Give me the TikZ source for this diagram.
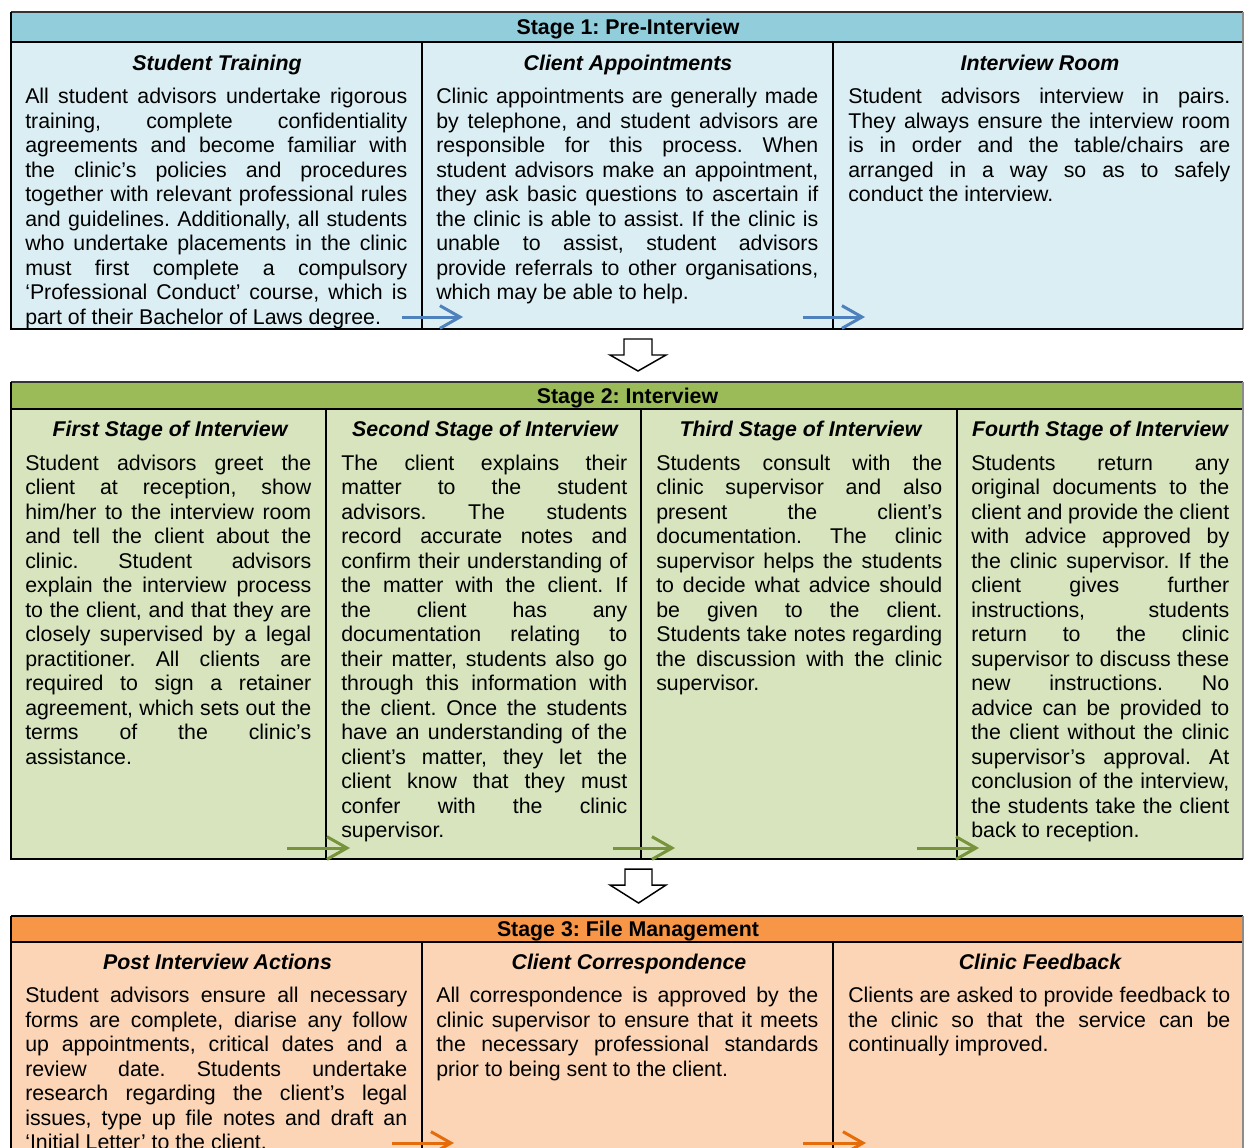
\documentclass[tikz,border=0pt]{standalone}
\usepackage{fontspec}
\setmainfont{Liberation Sans}
\usetikzlibrary{arrows.meta}
\definecolor{sAhead}{HTML}{92CDDC}
\definecolor{sAbody}{HTML}{DAEEF3}
\definecolor{sBhead}{HTML}{9BBB59}
\definecolor{sBbody}{HTML}{D7E4BD}
\definecolor{sChead}{HTML}{F79646}
\definecolor{sCbody}{HTML}{FBD5B5}
\definecolor{arrA}{HTML}{4F81BD}
\definecolor{arrB}{HTML}{77933C}
\definecolor{arrC}{HTML}{E46C0A}
\newcommand\bodyfont{\fontsize{16}{18.375}\selectfont\frenchspacing}
\frenchspacing
\tolerance=10000 \hbadness=10000 \hyphenpenalty=10000 \exhyphenpenalty=10000
\tikzset{
  headtxt/.style={anchor=base, inner sep=0pt, font=\bodyfont\bfseries},
  ttl/.style={anchor=base, inner sep=0pt, font=\bodyfont\bfseries\itshape},
  bodytxt/.style={anchor=north west, inner sep=0pt, align=justify, font=\bodyfont},
  wideA/.style={bodytxt, text width=286.5pt},
  wideB/.style={bodytxt, text width=214.5pt},
  wideC/.style={bodytxt, text width=193.5pt},
  frameline/.style={line width=1.5pt, draw=black},
  flowarrow/.style={line width=2.25pt, -{Straight Barb[length=15pt,width=17pt]}},
  hollow/.style={draw=black, fill=white, line width=1.1pt, line join=miter},
}
\begin{document}
\begin{tikzpicture}[x=0.75pt,y=-0.75pt]
\useasboundingbox (0,0) rectangle (1244,1147);
\clip (0,0) rectangle (1244,1147);
\fill[white] (0,0) rectangle (1244,1147);

% ---------------- Stage 1 ----------------
\fill[sAbody] (11,42) rectangle (1243,329);
\fill[sAhead] (11,12) rectangle (1243,42);
\draw[frameline] (11,42) -- (1243,42);
\draw[frameline] (422,42) -- (422,329);
\draw[frameline] (833,42) -- (833,329);
\draw[line width=1pt, draw=black!80] (11,12) -- (1243,12);
\draw[line width=1pt, draw=black!45] (1243,12) -- (1243,329);
\draw[frameline] (11,12) -- (11,329) -- (1243,329);

\node[headtxt] (h1) at (628,34.5) {Stage 1: Pre-Interview};
\node[ttl] (t11) at (217,70.7) {Student Training};
\node[ttl] (t12) at (628,70.7) {Client Appointments};
\node[ttl] (t13) at (1040,70.7) {Interview Room};

\node[wideA] (b11) at (25,86.3) {\strut All student advisors undertake rigorous \linebreak
training, complete confidentiality \linebreak
agreements and become familiar with \linebreak
the clinic’s policies and procedures \linebreak
together with relevant professional rules \linebreak
and guidelines. Additionally, all students \linebreak
who undertake placements in the clinic \linebreak
must first complete a compulsory \linebreak
‘Professional Conduct’ course, which is \linebreak
part of their Bachelor of Laws degree.};

\node[wideA] (b12) at (436,86.3) {\strut Clinic appointments are generally made \linebreak
by telephone, and student advisors are \linebreak
responsible for this process. When \linebreak
student advisors make an appointment, \linebreak
they ask basic questions to ascertain if \linebreak
the clinic is able to assist. If the clinic is \linebreak
unable to assist, student advisors \linebreak
provide referrals to other organisations, \linebreak
which may be able to help.};

\node[wideA] (b13) at (848,86.3) {\strut Student advisors interview in pairs. \linebreak
They always ensure the interview room \linebreak
is in order and the table/chairs are \linebreak
arranged in a way so as to safely \linebreak
conduct the interview.};

\coordinate (a11s) at (402,317);
\coordinate (a11e) at (463,317);
\coordinate (a12s) at (803,317);
\coordinate (a12e) at (865,317);
\draw[flowarrow, arrA] (a11s) -- (a11e);
\draw[flowarrow, arrA] (a12s) -- (a12e);

% hollow arrow 1
\draw[hollow] (624,339) -- (652,339) -- (652,355) -- (666,355) -- (638,371) -- (610,355) -- (624,355) -- cycle;

% ---------------- Stage 2 ----------------
\fill[sBbody] (11,409) rectangle (1243,859);
\fill[sBhead] (11,382) rectangle (1243,409);
\draw[frameline] (11,409) -- (1243,409);
\draw[frameline] (326,409) -- (326,859);
\draw[frameline] (641,409) -- (641,859);
\draw[frameline] (957,409) -- (957,859);
\draw[line width=1pt, draw=black!80] (11,382) -- (1243,382);
\draw[line width=1pt, draw=black!45] (1243,382) -- (1243,859);
\draw[frameline] (11,382) -- (11,859) -- (1243,859);

\node[headtxt] (h2) at (627.5,403) {Stage 2: Interview};
\node[ttl] (t21) at (170,436.5) {First Stage of Interview};
\node[ttl] (t22) at (485,436.5) {Second Stage of Interview};
\node[ttl] (t23) at (800.5,436.5) {Third Stage of Interview};
\node[ttl] (t24) at (1100,436.5) {Fourth Stage of Interview};

\node[wideB] (b21) at (25,453) {\strut Student advisors greet the \linebreak
client at reception, show \linebreak
him/her to the interview room \linebreak
and tell the client about the \linebreak
clinic. Student advisors \linebreak
explain the interview process \linebreak
to the client, and that they are \linebreak
closely supervised by a legal \linebreak
practitioner. All clients are \linebreak
required to sign a retainer \linebreak
agreement, which sets out the \linebreak
terms of the clinic’s \linebreak
assistance.};

\node[wideB] (b22) at (341,453) {\strut The client explains their \linebreak
matter to the student \linebreak
advisors. The students \linebreak
record accurate notes and \linebreak
confirm their understanding of \linebreak
the matter with the client. If \linebreak
the client has any \linebreak
documentation relating to \linebreak
their matter, students also go \linebreak
through this information with \linebreak
the client. Once the students \linebreak
have an understanding of the \linebreak
client’s matter, they let the \linebreak
client know that they must \linebreak
confer with the clinic \linebreak
supervisor.};

\node[wideB] (b23) at (656,453) {\strut Students consult with the \linebreak
clinic supervisor and also \linebreak
present the client’s \linebreak
documentation. The clinic \linebreak
supervisor helps the students \linebreak
to decide what advice should \linebreak
be given to the client. \linebreak
Students take notes regarding \linebreak
the discussion with the clinic \linebreak
supervisor.};

\node[wideC] (b24) at (971,453) {\strut Students return any \linebreak
original documents to the \linebreak
client and provide the client \linebreak
with advice approved by \linebreak
the clinic supervisor. If the \linebreak
client gives further \linebreak
instructions, students \linebreak
return to the clinic \linebreak
supervisor to discuss these \linebreak
new instructions. No \linebreak
advice can be provided to \linebreak
the client without the clinic \linebreak
supervisor’s approval. At \linebreak
conclusion of the interview, \linebreak
the students take the client \linebreak
back to reception.};

\coordinate (a21s) at (287,848);
\coordinate (a21e) at (350,848);
\coordinate (a22s) at (613,848);
\coordinate (a22e) at (675,848);
\coordinate (a23s) at (917,848);
\coordinate (a23e) at (979,848);
\draw[flowarrow, arrB] (a21s) -- (a21e);
\draw[flowarrow, arrB] (a22s) -- (a22e);
\draw[flowarrow, arrB] (a23s) -- (a23e);

% hollow arrow 2
\draw[hollow] (625,869) -- (652,869) -- (652,885) -- (666,885) -- (638.5,903) -- (610,885) -- (625,885) -- cycle;

% ---------------- Stage 3 ----------------
\fill[sCbody] (11,942) rectangle (1243,1160);
\fill[sChead] (11,916) rectangle (1243,942);
\draw[frameline] (11,942) -- (1243,942);
\draw[frameline] (422,942) -- (422,1160);
\draw[frameline] (833,942) -- (833,1160);
\draw[line width=1.2pt, draw=black] (11,916) -- (1243,916);
\draw[line width=1pt, draw=black!45] (1243,916) -- (1243,1160);
\draw[frameline] (11,916) -- (11,1160);

\node[headtxt] (h3) at (628,936.5) {Stage 3: File Management};
\node[ttl] (t31) at (217.5,969.8) {Post Interview Actions};
\node[ttl] (t32) at (629,969.8) {Client Correspondence};
\node[ttl] (t33) at (1040,969.8) {Clinic Feedback};

\node[wideA] (b31) at (25,985.5) {\strut Student advisors ensure all necessary \linebreak
forms are complete, diarise any follow \linebreak
up appointments, critical dates and a \linebreak
review date. Students undertake \linebreak
research regarding the client’s legal \linebreak
issues, type up file notes and draft an \linebreak
‘Initial Letter’ to the client.};

\node[wideA] (b32) at (436,985.5) {\strut All correspondence is approved by the \linebreak
clinic supervisor to ensure that it meets \linebreak
the necessary professional standards \linebreak
prior to being sent to the client.};

\node[wideA] (b33) at (848,985.5) {\strut Clients are asked to provide feedback to \linebreak
the clinic so that the service can be \linebreak
continually improved.};

\coordinate (a31s) at (392,1143);
\coordinate (a31e) at (454,1143);
\coordinate (a32s) at (803,1143);
\coordinate (a32e) at (866,1143);
\draw[flowarrow, arrC] (a31s) -- (a31e);
\draw[flowarrow, arrC] (a32s) -- (a32e);
\end{tikzpicture}
\end{document}
